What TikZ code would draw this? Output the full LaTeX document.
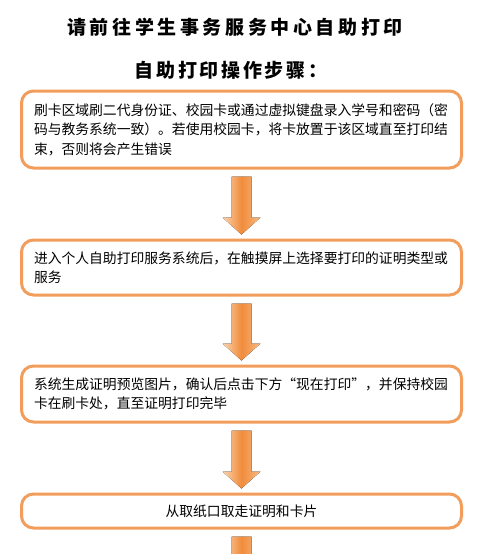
\documentclass[tikz,border=0pt]{standalone}
\usepackage{fontspec}
\setmainfont{Noto Sans CJK SC}
\newfontfamily\headfont[LetterSpace=19]{Noto Sans CJK SC}
\newfontfamily\subheadfont[LetterSpace=14]{Noto Sans CJK SC}
\usetikzlibrary{calc}
\definecolor{boxline}{RGB}{242,157,92}
\definecolor{arrowlight}{RGB}{252,212,175}
\definecolor{arrowdark}{RGB}{240,140,60}
\definecolor{arrowside}{RGB}{247,185,130}
\tikzset{
  stepbox/.style={draw=boxline, line width=3pt, rounded corners=12pt, fill=white, minimum width=440pt, text width=415pt, align=left, inner sep=0pt, font=\fontsize{13.8}{19.5}\selectfont},
  titletext/.style={inner sep=0pt, font=\fontsize{19}{22}\selectfont\bfseries},
  flowarrow/.style={left color=arrowlight, right color=arrowside, middle color=arrowdark}
}
\newcommand{\flowstep}[2]{%
  \fill[flowarrow] let \p1=($(#1)+(0,7)$), \p2=($(#2)+(0,-4)$) in
    (\x1-10pt,\y1) -- (\x1+10pt,\y1) -- (\x1+10pt,\y2+17pt) -- (\x1+19pt,\y2+17pt)
    -- (\x1,\y2) -- (\x1-19pt,\y2+17pt) -- (\x1-10pt,\y2+17pt) -- cycle;}

\begin{document}
\begin{tikzpicture}[x=1pt, y=-1pt]
  \useasboundingbox (0,0) rectangle (486,554);
  \clip (0,0) rectangle (486,554);
  \node[titletext] (title) at (235,27) {\headfont 请前往学生事务服务中心自助打印};
  \node[titletext] (subtitle) at (231,70) {\subheadfont 自助打印操作步骤：};

  \node[stepbox, minimum height=77pt] (card) at (241.5,129.5)
    {刷卡区域刷二代身份证、校园卡或通过虚拟键盘录入学号和密码（密\\
     码与教务系统一致）。若使用校园卡，将卡放置于该区域直至打印结\\
     束，否则将会产生错误};
  \node[stepbox, minimum height=55pt] (menu) at (241.5,267.5)
    {进入个人自助打印服务系统后，在触摸屏上选择要打印的证明类型或\\
     服务};
  \node[stepbox, minimum height=56pt] (preview) at (241.5,394)
    {系统生成证明预览图片，确认后点击下方“现在打印”，并保持校园\\
     卡在刷卡处，直至证明打印完毕};
  \node[stepbox, minimum height=34pt, align=center] (collect) at (241.5,511)
    {从取纸口取走证明和卡片};
  \coordinate (more) at (241.5,600);

  \flowstep{card.south}{menu.north}
  \flowstep{menu.south}{preview.north}
  \flowstep{preview.south}{collect.north}
  \flowstep{collect.south}{more}
\end{tikzpicture}
\end{document}
